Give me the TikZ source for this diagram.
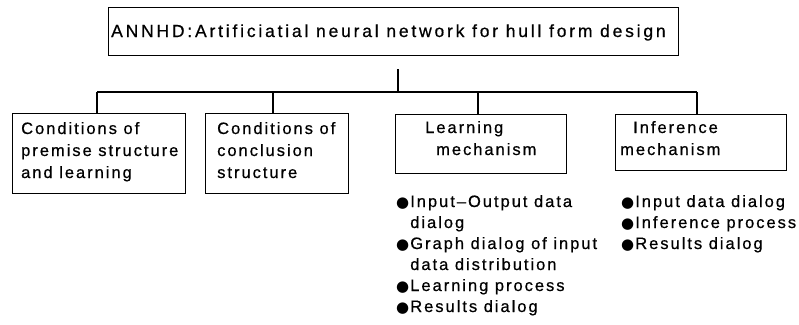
\documentclass[tikz,border=0pt]{standalone}
\usepackage{fontspec}
\setmainfont{Liberation Sans}[LetterSpace=12,FakeBold=0.6]
\newfontfamily\topfont{Liberation Sans}[LetterSpace=16,FakeBold=0.6]
\newfontfamily\dejavu{DejaVu Sans}
\newcommand\bul{{\dejavu\fontsize{15}{15}\selectfont ●}}
\begin{document}
\begin{tikzpicture}[x=1pt,y=-1pt,
  box/.style={draw,line width=1.2pt,inner sep=0pt,anchor=north west},
  lab/.style={inner sep=0pt,anchor=base west,font=\fontsize{16.5}{21}\selectfont},
  boxlab/.style={inner sep=0pt,anchor=base west,font=\fontsize{16.5}{22}\selectfont},
  conn/.style={line width=1.1pt}]
\useasboundingbox (0,0) rectangle (799,324);
% boxes
\node[box,minimum width=570pt,minimum height=48pt] (top) at (108,7) {};
\node[box,minimum width=173pt,minimum height=80pt] (b1) at (12,113) {};
\node[box,minimum width=143pt,minimum height=80pt] (b2) at (205,113) {};
\node[box,minimum width=171pt,minimum height=59pt] (b3) at (395,114) {};
\node[box,minimum width=171pt,minimum height=56pt] (b4) at (615,114) {};
% texts
\node[inner sep=0pt,anchor=base west,font=\topfont\fontsize{17.5}{21}\selectfont] (ttop) at (111,37) {ANNHD:Artificiatial neural network for hull form design};
\node[boxlab] (t1) at (21,134) {\begin{tabular}[t]{@{}l@{}}Conditions of\\premise structure\\and learning\end{tabular}};
\node[boxlab] (t2) at (217,134) {\begin{tabular}[t]{@{}l@{}}Conditions of\\conclusion\\structure\end{tabular}};
\node[boxlab] (t3) at (425,133) {\begin{tabular}[t]{@{}l@{}}Learning\\\hspace*{11pt}mechanism\end{tabular}};
\node[boxlab] (t4) at (620,133) {\begin{tabular}[t]{@{}l@{}}\hspace*{13pt}Inference\\mechanism\end{tabular}};
% connectors
\coordinate (stem) at (398,69);
\coordinate (jn) at (398,92);
\coordinate (busL) at (97,92);
\coordinate (busR) at (697,92);
\coordinate (d2) at (273,92);
\coordinate (d3) at (478,92);
\draw[conn] (stem) -- (jn);
\draw[conn] (busL) -- (busR);
\draw[conn] (busL) -- (busL |- b1.north);
\draw[conn] (d2) -- (d2 |- b2.north);
\draw[conn] (d3) -- (d3 |- b3.north);
\draw[conn] (busR) -- (busR |- b4.north);
% lists
\node[lab] (list1) at (396,207) {\begin{tabular}[t]{@{}l@{\hspace{1pt}}l@{}}\bul & Input–Output data\\ & dialog\\ \bul & Graph dialog of input\\ & data distribution\\ \bul & Learning process\\ \bul & Results dialog\end{tabular}};
\node[lab] (list2) at (621,207) {\begin{tabular}[t]{@{}l@{\hspace{1pt}}l@{}}\bul & Input data dialog\\ \bul & Inference process\\ \bul & Results dialog\end{tabular}};
\end{tikzpicture}
\end{document}
